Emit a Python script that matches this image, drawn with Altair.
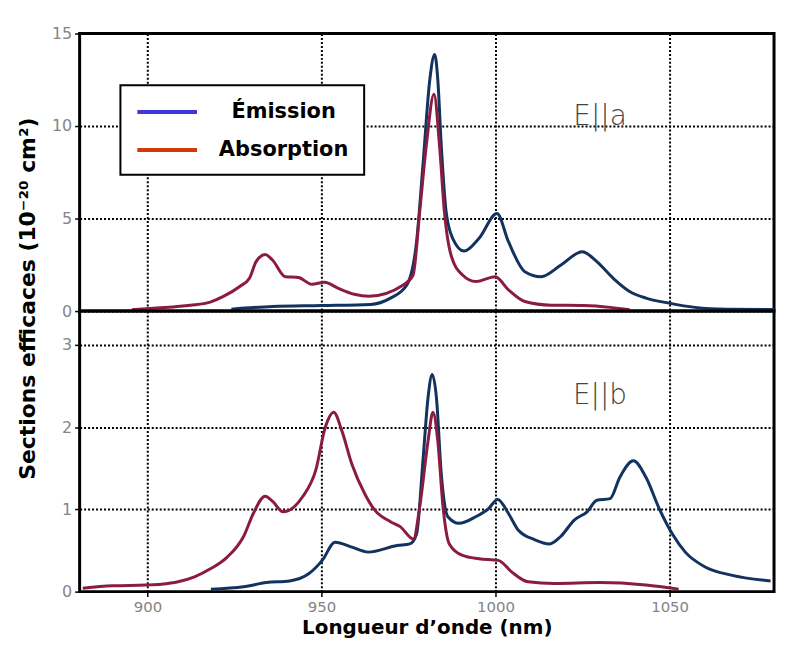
import altair as alt
import pandas as pd

SERIES = ["Émission", "Absorption"]
LINE_COLORS = ["#12325f", "#8a1c3f"]
LEGEND_COLORS = ["#3b3bdc", "#d03a05"]
WL_DOMAIN = [880.5, 1080]
X_TICKS = [900, 950, 1000, 1050]

# ---- E||a panel -------------------------------------------------------
a_em_wl = [924.1, 935.9, 950.0, 964.1, 969.8, 974.5, 977.3, 979.2, 981.1, 982.5,
           983.4, 984.4, 985.8, 987.7, 991.0, 995.2, 1000.4, 1003.7, 1008.4, 1013.1,
           1018.8, 1024.9, 1029.1, 1033.8, 1038.5, 1043.2, 1049.8, 1057.3, 1066.7, 1080.0]
a_em_val = [0.10, 0.25, 0.30, 0.36, 0.70, 1.41, 3.75, 8.05, 12.5, 13.87,
            12.5, 8.94, 5.36, 3.92, 3.24, 3.92, 5.27, 3.75, 2.13, 1.86,
            2.49, 3.21, 2.67, 1.77, 1.06, 0.70, 0.43, 0.20, 0.10, 0.08]
a_ab_wl = [895.5, 902.8, 912.3, 918.0, 921.8, 926.5, 929.3, 931.2, 933.8, 935.9,
           939.6, 943.4, 947.2, 950.9, 954.7, 959.4, 963.6, 973.5, 976.3, 978.2,
           980.1, 982.3, 983.9, 985.3, 987.2, 990.5, 994.3, 999.9, 1003.7, 1008.4,
           1016.0, 1025.3, 1033.0, 1038.5]
a_ab_val = [0.07, 0.16, 0.31, 0.48, 0.79, 1.33, 1.77, 2.67, 3.06, 2.76,
            1.86, 1.81, 1.45, 1.56, 1.24, 0.91, 0.80, 1.41, 1.95, 5.37,
            8.94, 11.72, 8.94, 5.36, 3.03, 1.95, 1.60, 1.86, 1.15, 0.52,
            0.32, 0.30, 0.20, 0.07]

# ---- E||b panel -------------------------------------------------------
b_em_wl = [918.2, 927.6, 934.2, 940.8, 946.4, 950.2, 953.9, 958.7, 963.4, 971.7,
           975.4, 977.3, 979.2, 980.6, 981.8, 983.0, 984.4, 986.3, 989.5, 994.3,
           998.0, 1000.6, 1003.7, 1006.5, 1011.3, 1015.5, 1018.7, 1022.6, 1026.3, 1029.1,
           1032.9, 1035.7, 1039.6, 1043.2, 1047.0, 1050.8, 1054.5, 1060.2, 1067.7, 1079.0]
b_em_val = [0.03, 0.06, 0.11, 0.13, 0.22, 0.38, 0.60, 0.54, 0.48, 0.56,
            0.58, 0.70, 1.63, 2.36, 2.64, 2.36, 1.43, 0.91, 0.83, 0.91,
            1.01, 1.12, 0.95, 0.75, 0.63, 0.58, 0.67, 0.87, 0.97, 1.11,
            1.13, 1.39, 1.59, 1.39, 1.01, 0.70, 0.48, 0.30, 0.20, 0.13]
b_ab_wl = [881.4, 889.9, 899.4, 904.0, 908.8, 913.5, 918.2, 922.9, 927.6, 930.4,
           933.8, 936.1, 938.9, 944.5, 948.3, 951.1, 953.5, 955.8, 958.7, 962.4,
           965.3, 969.8, 972.6, 976.4, 978.2, 980.6, 982.0, 983.4, 984.9, 986.7,
           990.5, 995.2, 1000.8, 1004.6, 1009.3, 1016.9, 1030.0, 1043.2, 1052.6]
b_ab_val = [0.04, 0.07, 0.08, 0.09, 0.12, 0.18, 0.28, 0.42, 0.67, 0.95,
            1.16, 1.09, 0.97, 1.15, 1.47, 2.00, 2.18, 1.96, 1.55, 1.19,
            0.99, 0.85, 0.79, 0.64, 1.03, 1.83, 2.18, 1.83, 1.03, 0.58,
            0.44, 0.40, 0.38, 0.24, 0.12, 0.10, 0.11, 0.08, 0.03]

ann_text = ["E||a", "E||b"]
ann_wl = [1030.0, 1030.0]
ann_val = [10.5, 2.38]


def make_df(em_wl, em_val, ab_wl, ab_val):
    em = pd.DataFrame({"wl": em_wl, "val": em_val, "series": SERIES[0]})
    ab = pd.DataFrame({"wl": ab_wl, "val": ab_val, "series": SERIES[1]})
    return em, ab


def panel(em, ab, ann, ydom, height, x_axis, y_axis, legend):
    x = alt.X("wl:Q", scale=alt.Scale(domain=WL_DOMAIN, nice=False, zero=False), axis=x_axis)
    y = alt.Y("val:Q", scale=alt.Scale(domain=ydom, nice=False, zero=False), axis=y_axis)
    stroke = alt.Stroke("series:N", scale=alt.Scale(domain=SERIES, range=LINE_COLORS), legend=None)
    l_em = alt.Chart(em).mark_line(strokeWidth=3, interpolate="monotone").encode(
        x=x, y=y, stroke=stroke)
    l_ab = alt.Chart(ab).mark_line(strokeWidth=3, interpolate="monotone").encode(
        x=x, y=y, stroke=stroke)
    txt = alt.Chart(ann).mark_text(font="DejaVu Sans", fontSize=28, fontWeight=200,
                                   color="#444444", align="center", baseline="middle").encode(
        x=alt.X("wl:Q"), y=alt.Y("val:Q"), text="t:N")
    layers = [l_em, l_ab, txt]
    if legend is not None:
        key = pd.DataFrame({"series": SERIES})
        leg = alt.Chart(key).mark_point(size=0, filled=False).encode(
            color=alt.Color("series:N", scale=alt.Scale(domain=SERIES, range=LEGEND_COLORS),
                            legend=legend))
        layers.append(leg)
    return alt.layer(*layers).properties(width=698, height=height)


a_em, a_ab = make_df(a_em_wl, a_em_val, a_ab_wl, a_ab_val)
b_em, b_ab = make_df(b_em_wl, b_em_val, b_ab_wl, b_ab_val)
ann_a = pd.DataFrame({"wl": [ann_wl[0]], "val": [ann_val[0]], "t": [ann_text[0]]})
ann_b = pd.DataFrame({"wl": [ann_wl[1]], "val": [ann_val[1]], "t": [ann_text[1]]})

legend = alt.Legend(title=None, orient="none", legendX=41, legendY=52,
                    symbolType="M-1,0H5", symbolSize=400, symbolStrokeWidth=4,
                    symbolOpacity=1,
                    labelFont="DejaVu Sans", labelFontSize=21, labelFontWeight="bold",
                    labelColor="black", labelAlign="center", labelOffset=125, labelLimit=400,
                    padding=15, rowPadding=16, strokeColor="black", fillColor="white")

top = panel(
    a_em, a_ab, ann_a, [0, 15], 279,
    alt.Axis(values=X_TICKS, labels=False, ticks=False, title=None),
    alt.Axis(values=[0, 5, 10, 15], format="d", title="Sections efficaces (10⁻²⁰ cm²)",
             titleX=-52, titleY=266, titleAngle=270, titleAlign="center",
             titleBaseline="middle", titleFont="DejaVu Sans", titleFontSize=22,
             titleFontWeight="bold", titleColor="black"),
    legend)

bottom = panel(
    b_em, b_ab, ann_b, [0, 3.41], 282,
    alt.Axis(values=X_TICKS, format="d", title="Longueur d’onde (nm)", titleY=36,
             titleBaseline="middle", titleFont="DejaVu Sans", titleFontSize=20,
             titleFontWeight="bold", titleColor="black", labelPadding=3,
             labelFontSize=15),
    alt.Axis(values=[0, 1, 2, 3], format="d", title=None),
    None)

chart = alt.vconcat(top, bottom, spacing=0, bounds="flush").resolve_legend(
    color="independent"
).configure_view(stroke="black", strokeWidth=3).configure_axis(
    grid=True, gridColor="black", gridDash=[2, 2], gridWidth=2, gridOpacity=1,
    domain=False, tickColor="black", tickWidth=1.5, tickSize=5,
    labelColor="#858585", labelFont="DejaVu Sans", labelFontSize=16, labelPadding=3
).configure_legend(strokeWidth=2).properties(
    padding={"left": 7, "top": 14, "right": 0, "bottom": 0}, background="white")

chart.save("out.html", embed_options={"renderer": "svg", "actions": False})
